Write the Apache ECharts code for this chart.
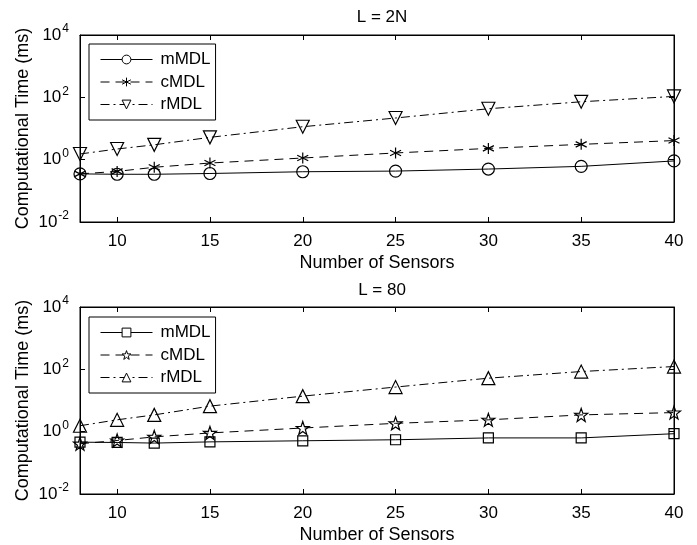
<!DOCTYPE html>
<html>
<head>
<meta charset="utf-8">
<script src="https://cdn.jsdelivr.net/npm/echarts@6/dist/echarts.min.js"></script>
<style>html,body{margin:0;padding:0;background:#fff;}#c{width:697px;height:545px;}</style>
</head>
<body>
<div id="c"></div>
<script>
var sensors = [8, 10, 12, 15, 20, 25, 30, 35, 40];
var xTicks = [10, 15, 20, 25, 30, 35, 40];
var titles = ['L = 2N', 'L = 80'];
var seriesNames = ['mMDL', 'cMDL', 'rMDL'];
// Top panel (L = 2N)
var top_mMDL = [0.35, 0.34, 0.34, 0.36, 0.41, 0.43, 0.50, 0.61, 0.91];
var top_cMDL = [0.35, 0.42, 0.57, 0.78, 1.13, 1.64, 2.3, 3.1, 4.1];
var top_rMDL = [1.52, 2.2, 3.0, 5.2, 11.4, 21.7, 43, 72, 107];
// Bottom panel (L = 80)
var bot_mMDL = [0.46, 0.45, 0.43, 0.47, 0.51, 0.55, 0.63, 0.63, 0.86];
var bot_cMDL = [0.41, 0.52, 0.68, 0.91, 1.31, 1.85, 2.4, 3.45, 4.1];
var bot_rMDL = [1.55, 2.4, 3.45, 6.6, 13.8, 27, 52, 85, 123];

var FONT = 'Liberation Sans';
var chart = echarts.init(document.getElementById('c'), null, {renderer: 'canvas'});

function pairs(ys) { return sensors.map(function (x, i) { return [x, ys[i]]; }); }

var SYM = {
  circle: 'circle',
  asterisk: 'path://M0,-5 L0,5 M-4.33,-2.5 L4.33,2.5 M-4.33,2.5 L4.33,-2.5',
  triDown: 'path://M-5,-3 L5,-3 L0,5.66 Z',
  square: 'rect',
  pentagram: 'path://M0,-5 L1.18,-1.62 L4.76,-1.55 L1.9,0.62 L2.94,4.05 L0,2 L-2.94,4.05 L-1.9,0.62 L-4.76,-1.55 L-1.18,-1.62 Z',
  triUp: 'path://M-5,3 L5,3 L0,-5.66 Z'
};

var dashes = ['solid', [9, 6], [9, 4, 2, 4]];

function mkSeries(name, data, sym, size, dash, idx) {
  return {
    type: 'line', name: name, data: pairs(data),
    xAxisIndex: idx * 2, yAxisIndex: idx * 2,
    symbol: sym, symbolSize: size, showAllSymbol: true,
    lineStyle: {color: '#000', width: 1, type: dash},
    itemStyle: {color: 'rgba(255,255,255,0)', borderColor: '#000', borderWidth: 1.2, borderType: 'solid'},
    emphasis: {disabled: true}, animation: false, z: 3
  };
}

var grids = [
  {left: 80, right: 23, top: 35, bottom: 323, show: true, borderColor: '#000', borderWidth: 1},
  {left: 80, right: 23, top: 307, bottom: 48, show: true, borderColor: '#000', borderWidth: 1}
];

var xAxes = [], yAxes = [];
[0, 1].forEach(function (g) {
  xAxes.push({
    type: 'value', gridIndex: g, min: 8, max: 40, position: 'bottom',
    name: 'Number of Sensors', nameLocation: 'middle', nameGap: 32,
    nameTextStyle: {fontFamily: FONT, fontSize: 18, color: '#000'},
    axisLine: {show: true, onZero: false, lineStyle: {color: '#000'}},
    axisTick: {show: true, inside: true, length: 5, customValues: xTicks, lineStyle: {color: '#000'}},
    axisLabel: {show: true, margin: 11, customValues: xTicks, fontFamily: FONT, fontSize: 17, color: '#000'},
    splitLine: {show: false}
  });
  xAxes.push({
    type: 'value', gridIndex: g, min: 8, max: 40, position: 'top',
    axisLine: {show: true, onZero: false, lineStyle: {color: '#000'}},
    axisTick: {show: true, inside: true, length: 5, customValues: xTicks, lineStyle: {color: '#000'}},
    axisLabel: {show: false}, splitLine: {show: false}
  });
  yAxes.push({
    type: 'log', logBase: 10, gridIndex: g, min: 0.01, max: 10000, interval: 2, position: 'left',
    name: 'Computational Time (ms)', nameLocation: 'middle', nameGap: 48, nameMoveOverlap: false,
    nameTextStyle: {fontFamily: FONT, fontSize: 18, color: '#000'},
    axisLine: {show: true, onZero: false, lineStyle: {color: '#000'}},
    axisTick: {show: true, inside: true, length: 5, lineStyle: {color: '#000'}},
    axisLabel: {
      show: true, margin: 11, fontFamily: FONT, fontSize: 17, color: '#000',
      formatter: function (v) { return '10{sup|' + Math.round(Math.log10(v)) + '}'; },
      rich: {sup: {fontFamily: FONT, fontSize: 12, color: '#000', verticalAlign: 'top', padding: [0, 0, 12, 1]}}
    },
    splitLine: {show: false}, minorTick: {show: false}
  });
  yAxes.push({
    type: 'log', logBase: 10, gridIndex: g, min: 0.01, max: 10000, interval: 2, position: 'right',
    axisLine: {show: true, onZero: false, lineStyle: {color: '#000'}},
    axisTick: {show: true, inside: true, length: 5, lineStyle: {color: '#000'}},
    axisLabel: {show: false}, splitLine: {show: false}
  });
});

var series = [
  mkSeries(seriesNames[0], top_mMDL, SYM.circle, 12, dashes[0], 0),
  mkSeries(seriesNames[1], top_cMDL, SYM.asterisk, 11, dashes[1], 0),
  mkSeries(seriesNames[2], top_rMDL, SYM.triDown, 13, dashes[2], 0),
  mkSeries(seriesNames[0] + ' ', bot_mMDL, SYM.square, 10, dashes[0], 1),
  mkSeries(seriesNames[1] + ' ', bot_cMDL, SYM.pentagram, 13, dashes[1], 1),
  mkSeries(seriesNames[2] + ' ', bot_rMDL, SYM.triUp, 13, dashes[2], 1)
];

function mkLegend(top, names) {
  return {
    left: 89, top: top, orient: 'vertical', data: names,
    itemWidth: 52, itemHeight: 11, itemGap: 5.5,
    padding: [7, 5, 7, 11],
    borderColor: '#000', borderWidth: 1, backgroundColor: '#fff',
    textStyle: {fontFamily: FONT, fontSize: 17, color: '#000', padding: [0, 0, 0, 3]},
    itemStyle: {color: '#fff', borderColor: '#000', borderWidth: 1, borderType: 'solid'},
    lineStyle: {width: 1, color: '#000'},
    formatter: function (n) { return n.trim(); },
    selectedMode: false
  };
}

chart.setOption({
  animation: false,
  backgroundColor: '#fff',
  title: [
    {text: titles[0], left: 377, top: 4, textAlign: 'center', textStyle: {fontFamily: FONT, fontSize: 17, fontWeight: 'normal', color: '#000'}},
    {text: titles[1], left: 377, top: 277, textAlign: 'center', textStyle: {fontFamily: FONT, fontSize: 17, fontWeight: 'normal', color: '#000'}}
  ],
  legend: [
    mkLegend(44, seriesNames),
    mkLegend(317, seriesNames.map(function (n) { return n + ' '; }))
  ],
  grid: grids,
  xAxis: xAxes,
  yAxis: yAxes,
  series: series
});
</script>
</body>
</html>
